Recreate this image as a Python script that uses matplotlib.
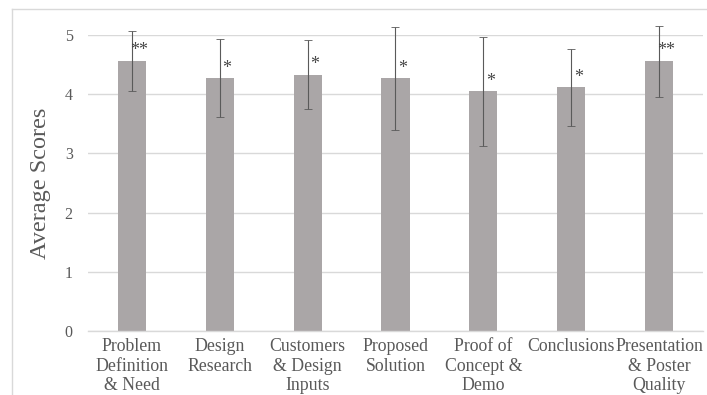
import matplotlib
matplotlib.use("Agg")
import matplotlib.pyplot as plt
from matplotlib.lines import Line2D

categories = ["Problem\nDefinition\n& Need", "Design\nResearch", "Customers\n& Design\nInputs",
              "Proposed\nSolution", "Proof of\nConcept &\nDemo", "Conclusions",
              "Presentation\n& Poster\nQuality"]
means = [4.56, 4.27, 4.33, 4.27, 4.05, 4.12, 4.56]
sds = [0.50, 0.66, 0.58, 0.87, 0.92, 0.65, 0.60]
stars = ["**", "*", "*", "*", "*", "*", "**"]
yticks = [0, 1, 2, 3, 4, 5]

plt.rcParams['font.family'] = ['Liberation Serif', 'DejaVu Serif']

fig = plt.figure(figsize=(7.07, 3.95), dpi=100)
ax = fig.add_axes([88/707, 1 - 331/395, (703-88)/707, (331-35)/395])

x = list(range(len(categories)))
ax.bar(x, means, width=0.32, color='#aaa6a7', zorder=2)
eb = ax.errorbar(x, means, yerr=sds, fmt='none', ecolor='#5a5a5a', elinewidth=0.8,
                 capsize=3, capthick=0.6, zorder=3)
for c in eb.lines[1]:
    c.set_clip_on(False)
for c in eb.lines[2]:
    c.set_clip_on(False)

for xi, m, s in zip(x, means, stars):
    ax.annotate(s, (xi, m), xytext=(5, 4), textcoords='offset points',
                ha='center', va='baseline', fontsize=13, color='#454545', zorder=4)

ax.set_xlim(-0.5, len(categories) - 0.5)
ax.set_ylim(0, 5)
ax.set_yticks(yticks)
ax.set_yticklabels([str(t) for t in yticks])
ax.set_xticks(x)
ax.set_xticklabels(categories, linespacing=1.2)
ax.grid(axis='y', color='#d9d9d9', linewidth=1.0, zorder=0)
ax.set_axisbelow(True)
for sp in ['top', 'right', 'left']:
    ax.spines[sp].set_visible(False)
ax.spines['bottom'].set_color('#d9d9d9')
ax.spines['bottom'].set_linewidth(1.0)
ax.tick_params(axis='y', length=0, pad=11, labelsize=11.5, labelcolor='#595959')
ax.tick_params(axis='x', length=0, pad=5, labelsize=12.8, labelcolor='#595959')
ax.set_ylabel("Average Scores", fontsize=17.5, color='#595959', labelpad=10)

# chart area frame (left and top edges visible)
fig.add_artist(Line2D([12/707, 12/707], [0, 1 - 9/395], transform=fig.transFigure,
                      color='#d9d9d9', linewidth=1.0))
fig.add_artist(Line2D([12/707, 1], [1 - 9/395, 1 - 9/395], transform=fig.transFigure,
                      color='#d9d9d9', linewidth=1.0))

fig.savefig("out.png", dpi=100)
